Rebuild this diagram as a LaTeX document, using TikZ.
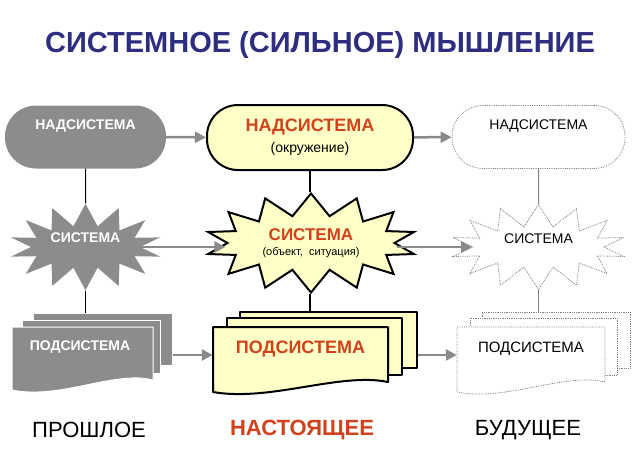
\documentclass[tikz,border=0pt]{standalone}
\usepackage{fontspec}
\setmainfont{Liberation Sans}
\usetikzlibrary{shapes.symbols,arrows.meta}
\definecolor{navy}{HTML}{2E2E80}
\definecolor{redt}{HTML}{D0421B}
\definecolor{gfill}{HTML}{8C8C8C}
\definecolor{yfill}{HTML}{FFFFC8}
\definecolor{garr}{HTML}{8A8A8A}
\definecolor{gline}{HTML}{808080}
\begin{document}
\begin{tikzpicture}[x=1pt,y=-1pt,
  stad/.style={rectangle, rounded corners=31pt, minimum height=63pt, inner sep=0pt},
  burst/.style={starburst, starburst points=14, starburst point height=22pt, random starburst=0, inner sep=0pt},
  arr/.style={draw=garr, line width=2.5pt, -{Triangle[length=11pt,width=11pt]}},
  pastsheet/.style={fill=gfill, draw=white, line width=1pt},
  nowsheet/.style={fill=yfill, draw=black, line width=2pt, line join=round},
  futsheet/.style={fill=white, draw=gline, line width=0.8pt, densely dotted},
  pasttext/.style={text=white, font=\bfseries\fontsize{14}{16}\selectfont},
  futtext/.style={text=black, font=\fontsize{14}{16}\selectfont},
  box/.style={rectangle, inner sep=0pt}
]
\useasboundingbox (0,0) rectangle (640,475);

% title
\node[font=\bfseries\fontsize{29}{32}\selectfont, text=navy] (title) at (320,45) {СИСТЕМНОЕ (СИЛЬНОЕ) МЫШЛЕНИЕ};

% top row
\node[stad, fill=gfill, minimum width=161pt, pasttext, text height=10pt, text depth=25pt] (ln) at (85.5,137) {НАДСИСТЕМА};
\node[stad, fill=yfill, draw=black, line width=2pt, minimum width=206pt, minimum height=65pt, align=center, font=\fontsize{14}{21}\selectfont] (mn) at (310,137.5) {{\bfseries\fontsize{18}{21}\selectfont\color{redt}НАДСИСТЕМА}\\(окружение)};
\node[stad, fill=white, draw=gline, line width=0.8pt, densely dotted, minimum width=173pt, futtext, text height=10pt, text depth=25pt] (rn) at (538.5,137) {НАДСИСТЕМА};

% middle row
\node[burst, fill=gfill, minimum width=153pt, minimum height=80pt, pasttext, text height=10pt, text depth=20pt] (ls) at (85.5,247) {СИСТЕМА};
\node[burst, fill=yfill, draw=black, line width=2pt, minimum width=211pt, minimum height=99pt, align=center, font=\fontsize{11}{15}\selectfont] (ms) at (311,243) {{\bfseries\fontsize{17}{15}\selectfont\color{redt}СИСТЕМА}\\(объект,\ \ ситуация)};
\node[burst, fill=white, draw=gline, line width=0.8pt, densely dotted, minimum width=175pt, minimum height=85pt, futtext, text height=10pt, text depth=18pt] (rs) at (538.5,247) {СИСТЕМА};

% bottom row: past sheets
\node[box, pastsheet, minimum width=139pt, minimum height=52pt] (lp3) at (102.5,339) {};
\node[box, pastsheet, minimum width=138pt, minimum height=53pt] (lp2) at (91,346.5) {};
\path[pastsheet] (12,327) -- (153,327) -- (153,380) .. controls (115,370) and (60,400) .. (12,390) -- cycle;
\node[box, minimum width=141pt, minimum height=56pt, pasttext, text height=10pt, text depth=20pt] (lp1) at (80,355) {ПОДСИСТЕМА};

% present sheets
\node[box, nowsheet, minimum width=177pt, minimum height=56pt] (mp3) at (328.5,340) {};
\node[box, nowsheet, minimum width=175pt, minimum height=57pt] (mp2) at (314.5,346.5) {};
\path[nowsheet] (213,327) -- (388,327) -- (388,382) .. controls (340,372) and (270,402) .. (213,392) -- cycle;
\node[box, minimum width=175pt, minimum height=56pt, text=redt, font=\bfseries\fontsize{18}{20}\selectfont, text height=13pt, text depth=16pt] (mp1) at (300.5,355) {ПОДСИСТЕМА};

% future sheets
\node[box, futsheet, minimum width=148pt, minimum height=56pt] (rp3) at (556,340) {};
\node[box, futsheet, minimum width=147pt, minimum height=57pt] (rp2) at (543.5,346.5) {};
\path[futsheet] (457,327) -- (605,327) -- (605,382) .. controls (565,372) and (505,402) .. (457,392) -- cycle;
\node[box, minimum width=148pt, minimum height=56pt, text=black, font=\fontsize{15}{17}\selectfont, text height=11pt, text depth=16pt] (rp1) at (531,355) {ПОДСИСТЕМА};

% horizontal arrows
\draw[arr] (ln) -- (mn);
\draw[arr] (mn) -- (rn);
\draw[arr] (ls.east) -- (ms.west |- ls.east);
\draw[arr] (ms.east |- rs.west) -- (rs.west);
\draw[arr] (lp3.east |- lp1.west) -- (mp1.west);
\draw[arr] (mp3.east |- mp1.east) -- (rp1.west);

% vertical connectors
\draw[black, line width=1pt] (ln.south) -- (ls.north);
\draw[black, line width=1pt] (ls.south) -- (ls.south |- lp3.north);
\draw[black, line width=2pt] (mn.south) -- (mn.south |- ms.north);
\draw[black, line width=2pt] (mn.south |- ms.south) -- (mn.south |- mp3.north);
\draw[gline, line width=1pt] (rn.south) -- (rs.north);
\draw[gline, line width=1pt] (rs.south) -- (rs.south |- rp3.north);

% time labels
\node[font=\fontsize{22}{24}\selectfont] (past) at (89,430) {ПРОШЛОЕ};
\node[font=\bfseries\fontsize{22}{24}\selectfont, text=redt] (now) at (302,430) {НАСТОЯЩЕЕ};
\node[font=\fontsize{22}{24}\selectfont] (future) at (528,430) {БУДУЩЕЕ};
\end{tikzpicture}
\end{document}
